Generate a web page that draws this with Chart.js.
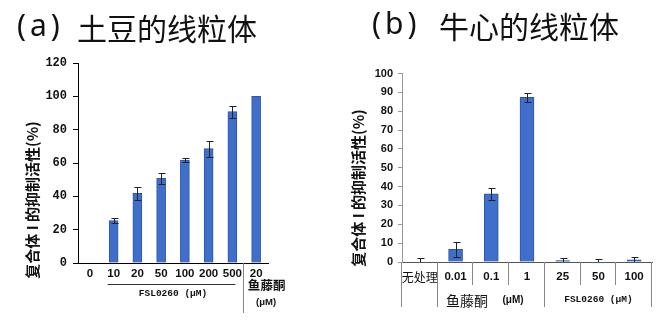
<!DOCTYPE html>
<html><head><meta charset="utf-8">
<script src="https://cdn.jsdelivr.net/npm/chart.js@4/dist/chart.umd.min.js"></script>
<style>
html,body{margin:0;padding:0;background:#fff;width:670px;height:330px;overflow:hidden;}
#ca{position:absolute;left:0;top:0;}
#cb{position:absolute;left:335px;top:0;}
.t{position:absolute;font-family:"Noto Sans CJK SC";font-size:30px;color:#111;white-space:nowrap;line-height:1;}
.p{position:absolute;font-family:"Noto Sans";font-size:30px;color:#111;white-space:nowrap;line-height:1;letter-spacing:4px;}
</style></head><body>
<canvas id="ca" width="335" height="330"></canvas>
<canvas id="cb" width="335" height="330"></canvas>
<div class="p" style="left:17px;top:10px">(a)</div>
<div class="t" style="left:77px;top:12px">土豆的线粒体</div>
<div class="p" style="left:372px;top:8px">(b)</div>
<div class="t" style="left:439px;top:10px">牛心的线粒体</div>
<script>
// ---- data ----
const potatoLabels = ['0','10','20','50','100','200','500','20'];
const potatoValues = [0.3, 25.4, 41.8, 50.8, 61.8, 68.6, 90.8, 100];
const potatoErrors = [0, 1.5, 3.8, 3.4, 1.2, 4.8, 3.6, 0];
const potatoTicks = [0, 20, 40, 60, 80, 100, 120];

const heartLabels = ['无处理','0.01','0.1','1','25','50','100'];
const heartValues = [0, 6.7, 36.1, 87.4, 0.8, -0.5, 1.1];
const heartErrors = [2.3, 4.0, 3.0, 2.4, 1.3, 2.0, 1.7];
const heartTicks = [0,10,20,30,40,50,60,70,80,90,100];

const yTitle = '复合体 I 的抑制活性(%)';
const fslLabel = 'FSL0260 (μM)';
const rotenone = '鱼藤酮';
const unitLabel = '(μM)';

const BAR = '#3f6fcb', BAR_EDGE = '#2c56a6';

function errorBars(errors, capHalf) {
  return {
    id: 'err',
    afterDatasetsDraw(chart) {
      const ctx = chart.ctx, y = chart.scales.y, meta = chart.getDatasetMeta(0);
      const vals = chart.data.datasets[0].data;
      ctx.save();
      ctx.strokeStyle = '#222'; ctx.lineWidth = 1;
      meta.data.forEach((bar, i) => {
        const e = errors[i]; if (!e) return;
        const x = Math.round(bar.x) + 0.5;
        const top = Math.round(y.getPixelForValue(vals[i] + e)) + 0.5;
        let bot = Math.round(y.getPixelForValue(vals[i] - e)) + 0.5;
        bot = Math.min(bot, chart.chartArea.bottom);
        ctx.beginPath();
        ctx.moveTo(x, top); ctx.lineTo(x, bot);
        ctx.moveTo(x - capHalf, top); ctx.lineTo(x + capHalf + 1, top);
        if (bot < chart.chartArea.bottom) { ctx.moveTo(x - capHalf, bot); ctx.lineTo(x + capHalf + 1, bot); }
        ctx.stroke();
      });
      ctx.restore();
    }
  };
}

function drawYTitle(ctx, cx, cy) {
  ctx.save();
  ctx.translate(cx, cy); ctx.rotate(-Math.PI / 2);
  ctx.fillStyle = '#111'; ctx.textAlign = 'center'; ctx.textBaseline = 'middle';
  ctx.font = 'bold 15px "Noto Sans CJK SC"';
  ctx.fillText(yTitle, 0, 0);
  ctx.restore();
}

const potatoDecor = {
  id: 'decorA',
  afterDraw(chart) {
    const ctx = chart.ctx, x = chart.scales.x, a = chart.chartArea;
    drawYTitle(ctx, 32, 200);
    ctx.save();
    const l = x.getPixelForValue(1) - 6, r = x.getPixelForValue(6) + 3;
    ctx.strokeStyle = '#333'; ctx.lineWidth = 1;
    ctx.beginPath(); ctx.moveTo(l, 284.5); ctx.lineTo(r, 284.5); ctx.stroke();
    const sx = Math.round((x.getPixelForValue(6) + x.getPixelForValue(7)) / 2) - 0.5;
    ctx.strokeStyle = '#888';
    ctx.beginPath(); ctx.moveTo(sx, a.bottom); ctx.lineTo(sx, 313); ctx.stroke();
    ctx.fillStyle = '#111'; ctx.textAlign = 'center'; ctx.textBaseline = 'middle';
    ctx.font = 'bold 9.5px "Liberation Mono"';
    ctx.fillText(fslLabel, (x.getPixelForValue(1) + x.getPixelForValue(6)) / 2, 294);
    const rx = x.getPixelForValue(7) + 10;
    ctx.font = 'bold 12.5px "Noto Sans CJK SC"';
    ctx.fillText(rotenone, rx + 0.5, 285);
    ctx.font = 'bold 9.5px "Liberation Sans"';
    ctx.fillText(unitLabel, rx, 302);
    ctx.restore();
  }
};

const heartDecor = {
  id: 'decorB',
  afterDraw(chart) {
    const ctx = chart.ctx, x = chart.scales.x, a = chart.chartArea;
    drawYTitle(ctx, 358 - 335, 188);
    ctx.save();
    const w = (a.right - a.left) / heartLabels.length;
    ctx.strokeStyle = '#888'; ctx.lineWidth = 1;
    for (let i = 0; i <= heartLabels.length; i++) {
      const bx = Math.round(a.left + i * w) - 0.5;
      const full = (i === 0 || i === 1 || i === 4 || i === 7);
      ctx.beginPath(); ctx.moveTo(bx, a.bottom); ctx.lineTo(bx, full ? 307 : 285); ctx.stroke();
    }
    ctx.fillStyle = '#111'; ctx.textAlign = 'center'; ctx.textBaseline = 'middle';
    ctx.font = '14px "Noto Sans CJK SC"';
    ctx.fillText(rotenone, 467 - 335, 301);
    ctx.font = 'bold 10px "Liberation Sans"';
    ctx.fillText(unitLabel, 513 - 335, 300);
    ctx.font = 'bold 9.5px "Liberation Mono"';
    ctx.fillText(fslLabel, (x.getPixelForValue(4) + x.getPixelForValue(6)) / 2, 300);
    ctx.restore();
  }
};

Chart.defaults.color = '#111';

new Chart(document.getElementById('ca'), {
  type: 'bar',
  data: { labels: potatoLabels, datasets: [{ data: potatoValues, backgroundColor: BAR, borderColor: BAR_EDGE, borderWidth: 1, barThickness: 9 }] },
  options: {
    responsive: false, animation: false, devicePixelRatio: 1,
    layout: { padding: { left: 0, right: 67, top: 63, bottom: 0 } },
    plugins: { legend: { display: false }, tooltip: { enabled: false } },
    scales: {
      x: {
        grid: { display: false, drawTicks: false }, border: { display: true, color: '#000', width: 1 },
        ticks: { font: { family: 'Liberation Sans', size: 11.5, weight: 'bold' }, color: '#111', padding: 4, maxRotation: 0, autoSkip: false },
        afterFit: s => { s.height = 67; }
      },
      y: {
        min: 0, max: 120,
        afterBuildTicks: s => { s.ticks = potatoTicks.map(v => ({ value: v })); },
        grid: { display: true, drawOnChartArea: false, drawTicks: true, tickLength: 5, color: '#000' },
        border: { display: true, color: '#000', width: 1 },
        ticks: { font: { family: 'Liberation Mono', size: 12, weight: 'bold' }, color: '#111', padding: 6 },
        afterFit: s => { s.width = 78; }
      }
    }
  },
  plugins: [errorBars(potatoErrors, 3), potatoDecor]
});

new Chart(document.getElementById('cb'), {
  type: 'bar',
  data: { labels: heartLabels, datasets: [{ data: heartValues, backgroundColor: BAR, borderColor: BAR_EDGE, borderWidth: 1, barThickness: 14, clip: false }] },
  options: {
    responsive: false, animation: false, devicePixelRatio: 1,
    layout: { padding: { left: 0, right: 18, top: 73.5, bottom: 0 } },
    plugins: { legend: { display: false }, tooltip: { enabled: false } },
    scales: {
      x: {
        grid: { display: false, drawTicks: false }, border: { display: true, color: '#555', width: 1 },
        ticks: {
          font: ctx => ctx.index === 0 ? { family: 'Noto Sans CJK SC', size: 12, weight: 'normal' } : { family: 'Liberation Sans', size: 11.5, weight: 'bold' },
          color: '#111', padding: 8, maxRotation: 0, autoSkip: false
        },
        afterFit: s => { s.height = 68; }
      },
      y: {
        min: 0, max: 100,
        afterBuildTicks: s => { s.ticks = heartTicks.map(v => ({ value: v })); },
        grid: { display: true, drawOnChartArea: false, drawTicks: true, tickLength: 4, color: '#999' },
        border: { display: true, color: '#999', width: 1 },
        ticks: { font: { family: 'Liberation Sans', size: 11, weight: 'bold' }, color: '#111', padding: 5 },
        afterFit: s => { s.width = 67; }
      }
    }
  },
  plugins: [errorBars(heartErrors, 3), heartDecor]
});
</script>
</body></html>
